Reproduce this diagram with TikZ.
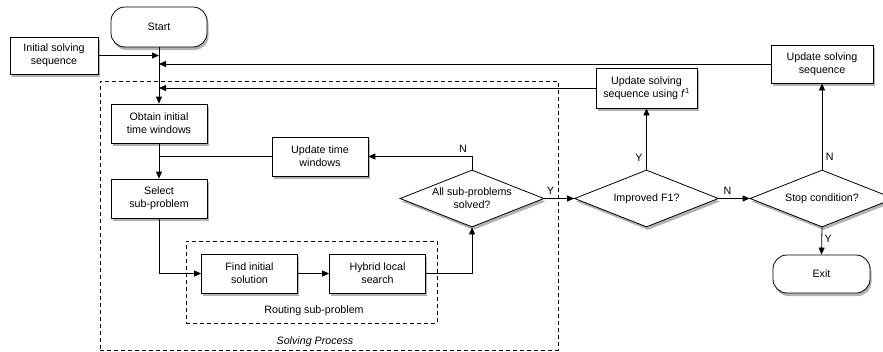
\documentclass[tikz,border=0pt]{standalone}
\usepackage{fontspec}
\setmainfont{Liberation Sans}
\usetikzlibrary{shapes.geometric,shadows,arrows.meta}
\begin{document}
\begin{tikzpicture}[x=1pt,y=-1pt,
 font=\fontsize{10.7}{13}\selectfont,
 >={Triangle[length=7pt,width=6pt]},
 shad/.style={drop shadow={shadow xshift=1.5pt,shadow yshift=-3pt,opacity=0.3,fill=black}},
 box/.style={draw,fill=white,line width=0.8pt,minimum width=96pt,minimum height=39pt,align=center,inner sep=2pt,shad},
 term/.style={box,rounded corners=14pt},
 dec/.style={draw,fill=white,diamond,aspect=2.5,minimum width=144pt,minimum height=57pt,inner sep=0pt,align=center,line width=0.8pt,shad},
 conn/.style={line width=0.8pt},
 grp/.style={draw,line width=0.8pt,dash pattern=on 4pt off 3pt,inner sep=0pt},
 lab/.style={inner sep=1.5pt}
]
\useasboundingbox (0,0) rectangle (883,351);
% groups
\node[grp,minimum width=458pt,minimum height=269pt] (solving) at (329,215.5) {};
\node[grp,minimum width=251pt,minimum height=82pt] (routing) at (311.5,282) {};
\node (routinglab) at (314,311) {Routing sub-problem};
\node (solvinglab) at (315,342) {\itshape Solving Process};
% nodes
\node[term,minimum height=40pt] (start) at (159,27) {Start};
\node[box,minimum width=88pt,minimum height=37pt] (init) at (54,55.5) {Initial solving\\sequence};
\node[box] (obtain) at (159,123.5) {Obtain initial\\time windows};
\node[box] (utw) at (320,156.5) {Update time\\windows};
\node[box] (select) at (159,198.5) {Select\\sub-problem};
\node[box] (find) at (249.5,273.5) {Find initial\\solution};
\node[box] (hybrid) at (377.5,273.5) {Hybrid local\\search};
\node[dec] (all) at (472,198.5) {All sub-problems\\solved?};
\node[dec] (imp) at (646.5,198.5) {Improved F1?};
\node[dec] (stop) at (822,198.5) {Stop condition?};
\node[box,minimum width=101pt,minimum height=40pt] (usf) at (646.5,88) {Update solving\\sequence using \textit{f}\textsuperscript{1}};
\node[box,minimum width=102pt,minimum height=38pt] (uss) at (822,64) {Update solving\\sequence};
\node[term,minimum width=97pt,minimum height=38pt] (exit) at (821.5,274) {Exit};
% connectors
\draw[conn,->] (start) -- (obtain);
\draw[conn,->] (init.east) -- (init.east -| start.south);
\draw[conn,->] (uss.west) -- (uss.west -| start.south);
\draw[conn,->] (usf.west) -- (usf.west -| start.south);
\draw[conn,->] (obtain) -- (select);
\draw[conn] (utw.west) -- (utw.west -| obtain.south);
\draw[conn,->] (select.south) |- (find.west);
\draw[conn,->] (find) -- (hybrid);
\draw[conn,->] (hybrid.east) -| (all.south);
\draw[conn,->] (all.north) |- node[lab,pos=0.5,above,xshift=-9pt,yshift=2pt] {N} (utw.east);
\draw[conn,->] (all.east) -- node[lab,pos=0.2,above,yshift=2pt] {Y} (imp.west);
\draw[conn,->] (imp.north) -- node[lab,pos=0.2,left,xshift=-2pt] {Y} (usf.south);
\draw[conn,->] (imp.east) -- node[lab,pos=0.28,above,yshift=2pt] {N} (stop.west);
\draw[conn,->] (stop.north) -- node[lab,pos=0.15,right,xshift=2pt] {N} (uss.south);
\draw[conn,->] (stop.south) -- node[lab,pos=0.43,right,xshift=1pt] {Y} (exit.north);
\end{tikzpicture}
\end{document}
